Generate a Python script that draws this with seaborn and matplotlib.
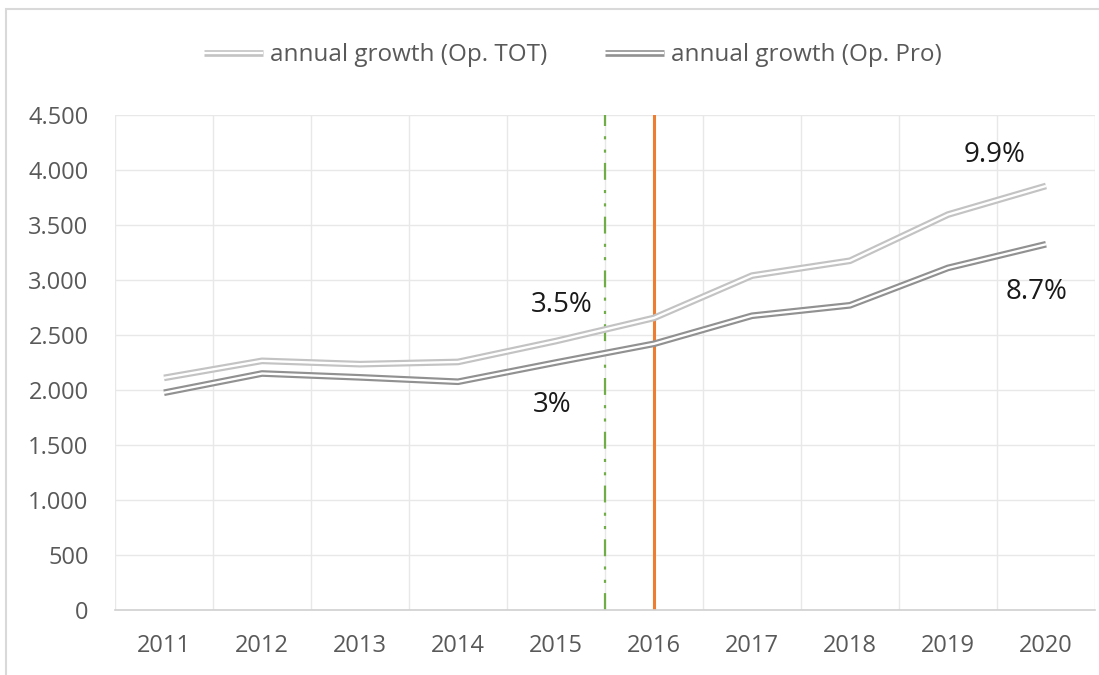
import matplotlib
matplotlib.use("Agg")
import matplotlib.pyplot as plt
import matplotlib.patheffects as pe
from matplotlib.patches import Rectangle
import seaborn as sns
import pandas as pd
import numpy as np

# data
years = ["2011", "2012", "2013", "2014", "2015", "2016", "2017", "2018", "2019", "2020"]
tot = [2110, 2265, 2235, 2255, 2445, 2655, 3040, 3175, 3595, 3855]
pro = [1975, 2150, 2115, 2075, 2250, 2420, 2675, 2770, 3110, 3325]
series_names = ["annual growth (Op. TOT)", "annual growth (Op. Pro)"]
yticks = [0, 500, 1000, 1500, 2000, 2500, 3000, 3500, 4000, 4500]
ytick_labels = ["0", "500", "1.000", "1.500", "2.000", "2.500", "3.000", "3.500", "4.000", "4.500"]

GRID = '#E8E8E8'
TXT = '#595959'

sns.set_style("white")
plt.rcParams['font.family'] = ['Open Sans', 'DejaVu Sans']

df = pd.DataFrame({
    "year": years * 2,
    "value": tot + pro,
    "series": [series_names[0]] * len(years) + [series_names[1]] * len(years),
})

fig = plt.figure(figsize=(10.99, 6.75), dpi=100)
ax = fig.add_axes([115 / 1099, 65 / 675, 980 / 1099, 495 / 675])

# double ("compound") line like excel: grey stroke with a white core
sns.lineplot(data=df, x="year", y="value", hue="series", sort=False,
             palette=["#C3C3C3", "#919191"], linewidth=4.8, legend=False, ax=ax,
             solid_capstyle="butt",
             path_effects=[pe.Normal(), pe.Stroke(linewidth=1.7, foreground="white")])

ax.set_xlim(-0.5, len(years) - 0.5)
ax.set_ylim(0, 4500)
ax.set_yticks(yticks)
ax.set_yticklabels(ytick_labels)
ax.set_xticks(range(len(years)))
ax.set_xticklabels(years)
ax.set_xticks(np.arange(-0.5, len(years), 1), minor=True)
ax.tick_params(axis="both", which="both", length=0, labelsize=17, colors=TXT)
ax.tick_params(axis="y", pad=19)
ax.tick_params(axis="x", pad=17)
ax.grid(True, axis="y", which="major", color=GRID, lw=1)
ax.grid(True, axis="x", which="minor", color=GRID, lw=1)
ax.grid(False, axis="x", which="major")
ax.set_axisbelow(True)
ax.set_xlabel("")
ax.set_ylabel("")
for s in ["top", "right", "left"]:
    ax.spines[s].set_visible(False)
ax.spines["bottom"].set_color("#D0D0D0")
ax.spines["bottom"].set_linewidth(1.2)

# markers for the two periods (dash pattern is scaled by linewidth)
ax.axvline(4.5, color="#70AD47", lw=1.6, linestyle=(0, (7.6, 4.6, 1.4, 4.6, 1.4, 4.6)),
           dash_capstyle="butt", zorder=1.5)
ax.axvline(5, color="#ED7D31", lw=2.2, zorder=1.5)

ax.text(4.06, 2770, "3.5%", fontsize=20, color="#1A1A1A", ha="center", va="center")
ax.text(3.96, 1865, "3%", fontsize=20, color="#1A1A1A", ha="center", va="center")
ax.text(8.48, 4135, "9.9%", fontsize=20, color="#1A1A1A", ha="center", va="center")
ax.text(8.9, 2890, "8.7%", fontsize=20, color="#1A1A1A", ha="center", va="center")

handles = ax.get_lines()[:2]
leg = fig.legend(handles, series_names, loc="center", bbox_to_anchor=(0.5214, 0.918),
                 ncol=2, frameon=False, fontsize=17.5, handlelength=2.4, handletextpad=0.3,
                 columnspacing=2.4)
for t in leg.get_texts():
    t.set_color(TXT)

# chart border (cut off on the right / bottom in the reference)
fig.patches.append(Rectangle((6 / 1099, -0.1), 1.2, 1.1 - 9 / 675, transform=fig.transFigure,
                             fill=False, edgecolor="#D9D9D9", lw=1.5))

fig.savefig("out.png", dpi=100)
